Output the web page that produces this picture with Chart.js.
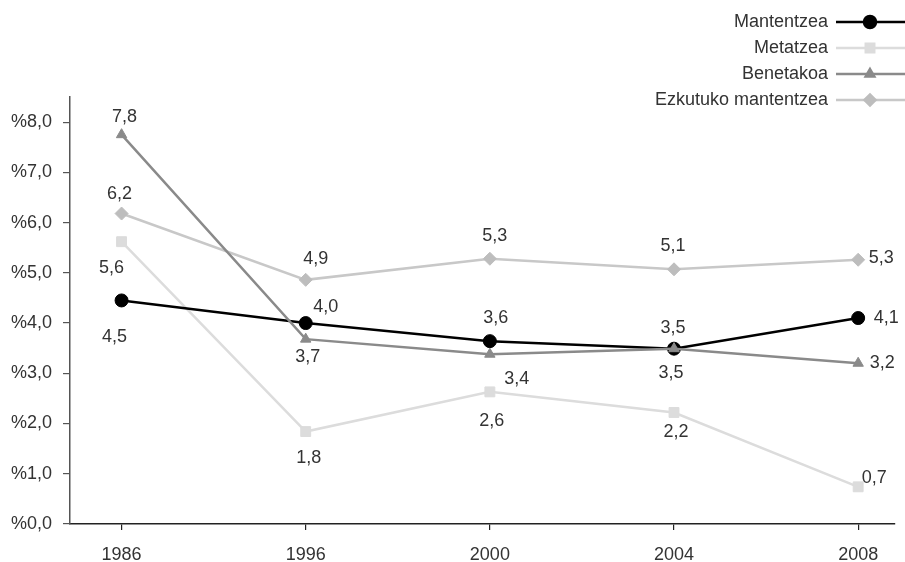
<!DOCTYPE html>
<html>
<head>
<meta charset="utf-8">
<script src="https://cdn.jsdelivr.net/npm/chart.js@4.4.1/dist/chart.umd.min.js"></script>
<style>
  html, body { margin: 0; padding: 0; background: #fff; }
</style>
</head>
<body>
<canvas id="chart" width="905" height="562"></canvas>
<script>
// Categories and tick values
const years = ["1986", "1996", "2000", "2004", "2008"];
const yTicks = [0, 1, 2, 3, 4, 5, 6, 7, 8];

// Series values (percent)
const mantentzea = [4.45, 4.0, 3.64, 3.49, 4.1];
const metatzea = [5.62, 1.84, 2.63, 2.22, 0.74];
const benetakoa = [7.75, 3.68, 3.38, 3.49, 3.2];
const ezkutuko = [6.18, 4.86, 5.28, 5.07, 5.26];

const FONT = "'Liberation Sans', Arial, sans-serif";
const TEXT = "#333333";

// Where each value label sits relative to its point (dx, dy in px)
const labelOffsets = [
  [[-7, 37], [20, -16], [6, -23], [-1, -21], [28, 0]],
  [[-10, 26], [3, 26], [2, 29], [2, 20], [16, -9]],
  [[3, -18], [2, 18], [27, 25], [-3, 24], [24, 0]],
  [[-2, -20], [10, -21], [5, -23], [-1, -23], [23, -2]],
];

const toPoints = (values) => values.map((v, i) => ({ x: i, y: v }));
const fmt = (v) => v.toFixed(1).replace(".", ",");

// Value labels drawn next to each point
const valueLabels = {
  id: "valueLabels",
  afterDatasetsDraw(chart) {
    const ctx = chart.ctx;
    ctx.save();
    ctx.font = "18px " + FONT;
    ctx.fillStyle = TEXT;
    ctx.textAlign = "center";
    ctx.textBaseline = "middle";
    chart.data.datasets.forEach((ds, di) => {
      const meta = chart.getDatasetMeta(di);
      meta.data.forEach((pt, i) => {
        const [dx, dy] = labelOffsets[di][i];
        ctx.fillText(fmt(ds.data[i].y), pt.x + dx, pt.y + dy);
      });
    });
    ctx.restore();
  },
};

// Legend at top right: text, then a line with its marker
const sideLegend = {
  id: "sideLegend",
  afterDraw(chart) {
    const ctx = chart.ctx;
    chart.data.datasets.forEach((ds, i) => {
      const y = 22 + i * 26;
      ctx.save();
      ctx.font = "18px " + FONT;
      ctx.fillStyle = TEXT;
      ctx.textAlign = "right";
      ctx.textBaseline = "middle";
      ctx.fillText(ds.label, 828, y);
      ctx.strokeStyle = ds.borderColor;
      ctx.lineWidth = ds.borderWidth;
      ctx.beginPath();
      ctx.moveTo(836, y);
      ctx.lineTo(905, y);
      ctx.stroke();
      ctx.fillStyle = ds.pointBackgroundColor;
      ctx.strokeStyle = ds.pointBackgroundColor;
      Chart.helpers.drawPoint(ctx, {
        pointStyle: ds.pointStyle,
        radius: ds.legendRadius,
        rotation: 0,
        borderWidth: 1,
      }, 870, y);
      ctx.restore();
    });
  },
};

const makeSeries = (label, values, color, markerColor, style, radius, legendRadius, order) => ({
  label,
  data: toPoints(values),
  borderColor: color,
  borderWidth: 2.5,
  pointStyle: style,
  pointRadius: radius,
  pointBackgroundColor: markerColor,
  pointBorderColor: markerColor,
  pointBorderWidth: 1,
  legendRadius,
  tension: 0,
  order,
});

new Chart(document.getElementById("chart").getContext("2d"), {
  type: "line",
  data: {
    datasets: [
      makeSeries("Mantentzea", mantentzea, "#000000", "#000000", "circle", 6.5, 6, 1),
      makeSeries("Metatzea", metatzea, "#dcdcdc", "#dcdcdc", "rect", 7, 6, 2),
      makeSeries("Benetakoa", benetakoa, "#8a8a8a", "#8a8a8a", "triangle", 6, 5, 0),
      makeSeries("Ezkutuko mantentzea", ezkutuko, "#c8c8c8", "#bdbdbd", "rectRot", 6.5, 5.5, 3),
    ],
  },
  options: {
    responsive: false,
    animation: false,
    layout: { padding: { top: 97, right: 10, left: 0, bottom: 0 } },
    plugins: {
      legend: { display: false },
      tooltip: { enabled: false },
    },
    scales: {
      x: {
        type: "linear",
        min: -0.28,
        max: 4.2,
        afterBuildTicks: (scale) => {
          scale.ticks = years.map((_, i) => ({ value: i }));
        },
        afterFit: (scale) => {
          scale.height = 38;
        },
        ticks: {
          callback: (v) => years[v],
          font: { family: FONT, size: 18 },
          color: TEXT,
          padding: 14,
          maxRotation: 0,
        },
        grid: { drawOnChartArea: false, tickLength: 6, color: "#222", lineWidth: 1.2 },
        border: { color: "#222", width: 1.5 },
      },
      y: {
        min: 0,
        max: 8.5,
        afterBuildTicks: (scale) => {
          scale.ticks = yTicks.map((v) => ({ value: v }));
        },
        afterFit: (scale) => {
          scale.width = 70;
        },
        ticks: {
          callback: (v) => "%" + fmt(v),
          font: { family: FONT, size: 18 },
          color: TEXT,
          padding: 11,
        },
        grid: { drawOnChartArea: false, tickLength: 7, color: "#555", lineWidth: 1.2 },
        border: { color: "#555", width: 1.5 },
      },
    },
  },
  plugins: [valueLabels, sideLegend],
});
</script>
</body>
</html>
